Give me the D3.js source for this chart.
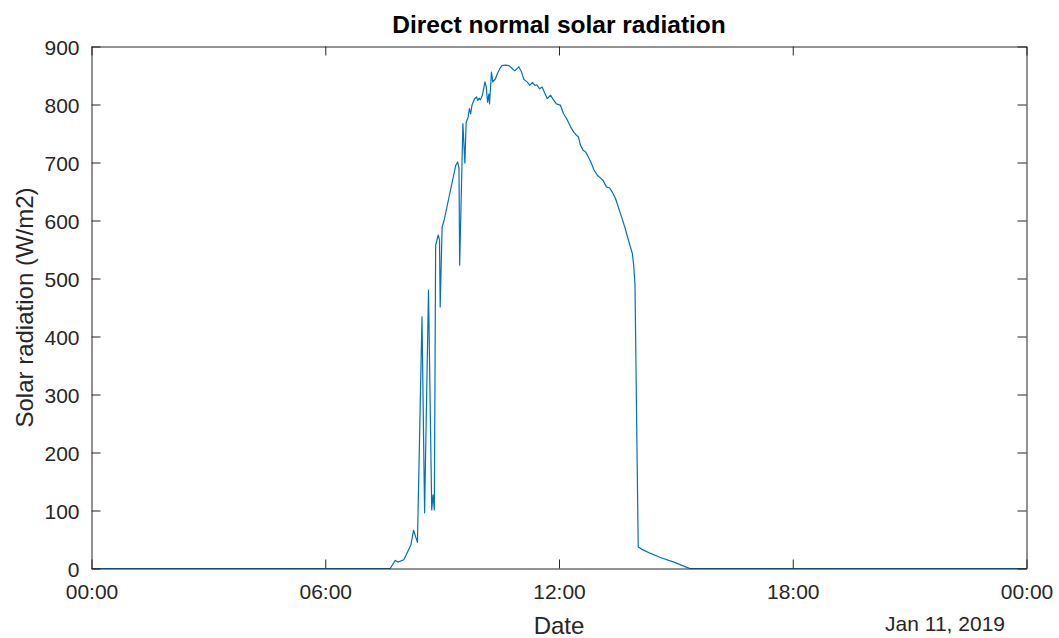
<!DOCTYPE html>
<html>
<head>
<meta charset="utf-8">
<script src="https://cdn.jsdelivr.net/npm/d3@7"></script>
<style>
html,body{margin:0;padding:0;background:#fff;}
svg{display:block;font-family:"Liberation Sans",Arial,Helvetica,sans-serif;}
</style>
</head>
<body>
<svg id="chart" width="1059" height="638"></svg>
<script>
const times = ["00:00","07:40","07:48","07:52","08:01","08:05","08:10","08:12","08:16","08:22","08:29","08:33","08:39","08:44","08:46","08:48","08:50","08:54","08:56","08:57","09:00","09:03","09:21","09:24","09:26","09:27","09:32","09:35","09:37","09:40","09:42","09:44","09:46","09:50","09:53","09:55","09:57","09:59","10:02","10:06","10:08","10:10","10:12","10:13","10:16","10:18","10:22","10:25","10:29","10:32","10:38","10:43","10:48","10:52","10:58","11:02","11:06","11:11","11:15","11:19","11:23","11:26","11:30","11:34","11:38","11:42","11:47","11:52","11:56","12:02","12:07","12:13","12:18","12:23","12:27","12:30","12:33","12:37","12:41","12:44","12:49","12:54","12:59","13:04","13:08","13:13","13:18","13:22","13:27","13:32","13:37","13:42","13:47","13:53","13:55","13:57","14:02","14:08","14:21","14:36","14:57","15:17","15:22","24:00"];
const values = [0,0,14,11,15,24,36,41,66,45,434,96,480,101,127,101,557,575,566,451,589,600,695,701,690,523,767,699,769,778,793,784,799,810,813,807,811,808,816,839,830,804,818,801,856,839,844,853,862,867,868,867,862,858,865,857,843,839,833,838,833,834,827,830,820,810,816,807,801,799,784,773,761,752,747,744,730,721,718,712,701,687,678,673,669,658,656,649,638,621,604,586,566,543,523,490,37,33,26,19,11,2,0,0];
const xTickLabels = ["00:00","06:00","12:00","18:00","00:00"];
const yTicks = [0,100,200,300,400,500,600,700,800,900];
const titleText = "Direct normal solar radiation";
const xLabel = "Date";
const yLabel = "Solar radiation (W/m2)";
const dateLabel = "Jan 11, 2019";

const svg = d3.select("#chart");
const L = 91.5, R = 1026.5, T = 46.5, B = 568.5;
const day0 = new Date(2019, 0, 11);
const toDate = s => { const [h, m] = s.split(":").map(Number); return new Date(day0.getTime() + (h*60+m)*60000); };
const data = times.map((t, i) => ({ t: toDate(t), v: values[i] }));

const x = d3.scaleTime().domain([day0, new Date(day0.getTime() + 24*3600000)]).range([L, R]);
const y = d3.scaleLinear().domain([0, 900]).range([B, T]);
const axisColor = "#262626";
const tickLen = 9;
const xTickVals = xTickLabels.map((_, i) => new Date(day0.getTime() + i*6*3600000));

// line
svg.append("path").datum(data)
  .attr("fill", "none").attr("stroke", "#0072BD").attr("stroke-width", 1.2)
  .attr("stroke-linejoin", "round")
  .attr("d", d3.line().x(d => x(d.t)).y(d => y(d.v)));

// axes
const xAxisB = d3.axisBottom(x).tickValues(xTickVals).tickFormat((d, i) => xTickLabels[i]).tickSizeInner(-tickLen).tickSizeOuter(0).tickPadding(16);
const gx = svg.append("g").attr("transform", `translate(0,${B})`).call(xAxisB);
const xAxisT = d3.axisTop(x).tickValues(xTickVals).tickFormat("").tickSizeInner(-tickLen).tickSizeOuter(0);
const gxt = svg.append("g").attr("transform", `translate(0,${T})`).call(xAxisT);
const yAxisL = d3.axisLeft(y).tickValues(yTicks).tickSizeInner(-tickLen).tickSizeOuter(0).tickPadding(12);
const gy = svg.append("g").attr("transform", `translate(${L},0)`).call(yAxisL);
const yAxisR = d3.axisRight(y).tickValues(yTicks).tickFormat("").tickSizeInner(-tickLen).tickSizeOuter(0);
const gyr = svg.append("g").attr("transform", `translate(${R},0)`).call(yAxisR);

[gx, gxt, gy, gyr].forEach(g => {
  g.select(".domain").attr("stroke", axisColor).attr("stroke-width", 1);
  g.selectAll(".tick line").attr("stroke", axisColor).attr("stroke-width", 1);
  g.selectAll(".tick text").attr("fill", axisColor).style("font-size", "21px").style("font-family", "'Liberation Sans', Arial, sans-serif");
});
gx.selectAll(".tick text").attr("dy", "0.71em");
gy.selectAll(".tick text").attr("dy", "0.36em");

// title
svg.append("text").attr("x", (L + R) / 2).attr("y", 33).attr("text-anchor", "middle")
  .attr("fill", "#000").style("font-size", "24.5px").style("font-weight", "bold").text(titleText);
// x label
svg.append("text").attr("x", (L + R) / 2).attr("y", 634).attr("text-anchor", "middle")
  .attr("fill", axisColor).style("font-size", "24px").text(xLabel);
// date label
svg.append("text").attr("x", 1005).attr("y", 631).attr("text-anchor", "end")
  .attr("fill", axisColor).style("font-size", "21px").text(dateLabel);
// y label
svg.append("text").attr("transform", `translate(33,${(T + B) / 2}) rotate(-90)`).attr("text-anchor", "middle")
  .attr("fill", axisColor).style("font-size", "24px").text(yLabel);
</script>
</body>
</html>
